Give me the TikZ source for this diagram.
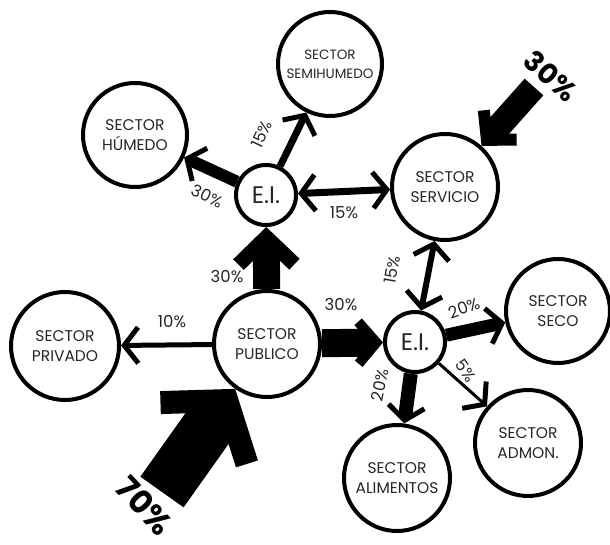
\documentclass[tikz,border=0pt]{standalone}
\usepackage{fontspec}
\setmainfont{Poppins}
\usepackage{tikz}
\usetikzlibrary{arrows.meta}
\pgfdeclarelayer{back}
\pgfsetlayers{back,main}

\begin{document}
\begin{tikzpicture}[x=1pt, y=-1pt,
  sector/.style={circle, draw, line width=4pt, fill=white, minimum size=104pt,
    inner sep=0pt, align=center, text=black!85, font=\fontsize{15.5}{20}\selectfont},
  ei/.style={sector, minimum size=60pt, font=\fontsize{24}{24}\selectfont},
  pct/.style={text=black!85, font=\fontsize{16.5}{16.5}\selectfont},
  bigpct/.style={font=\fontsize{32}{32}\selectfont\bfseries},
  >={Straight Barb[length=14pt, width=36pt, line width=5pt]},
  flowUp/.style={line width=27pt, -{Straight Barb[length=27pt, width=56pt, line width=15pt]}},
  flowRight/.style={line width=28pt, -{Straight Barb[length=18pt, width=42pt, line width=10pt]}},
  flowIn/.style={line width=25pt, -{Straight Barb[length=20pt, width=44pt, line width=12pt]}},
  flowBig/.style={line width=53pt, -{Straight Barb[length=40pt, width=106pt, line width=23pt]}}]
\useasboundingbox (0,0) rectangle (610,545);

% sectors
\node[sector] (humedo) at (135,135) {SECTOR\\HÚMEDO};
\node[sector, font=\fontsize{13.5}{19}\selectfont] (semi) at (330,64) {SECTOR\\SEMIHUMEDO};
\node[ei] (eiA) at (266,195) {E.I.};
\node[sector, minimum size=106pt] (servicio) at (445,187) {SECTOR\\SERVICIO};
\node[sector, minimum size=106pt] (publico) at (267,344) {SECTOR\\PUBLICO};
\node[sector, minimum size=108pt] (privado) at (65,346) {SECTOR\\PRIVADO};
\node[ei] (eiB) at (415,342) {E.I.};
\node[sector] (seco) at (558,311) {SECTOR\\SECO};
\node[sector, minimum size=106pt] (admon) at (528,443) {SECTOR\\ADMON.};
\node[sector, minimum size=106pt] (alimentos) at (397,478) {SECTOR\\ALIMENTOS};

\coordinate (srcA) at (162,492);
\coordinate (srcB) at (534,87);

% flows
\begin{pgfonlayer}{back}
\draw[flowBig] (srcA) -- (publico);
\draw[flowIn] (srcB) -- (servicio);
\draw[flowUp] (publico) -- (eiA);
\draw[flowRight] (publico) -- (eiB);
\draw[line width=5pt, ->] (publico) -- (privado);
\draw[line width=12pt, ->] (eiA) -- (humedo);
\draw[line width=7pt, ->] (eiA) -- (semi);
\draw[line width=7pt, <->] (eiA) -- (servicio);
\draw[line width=6pt, <->] (servicio) -- (eiB);
\draw[line width=13pt, ->] (eiB) -- (seco);
\draw[line width=3pt, ->] (eiB) -- (admon);
\draw[line width=14pt, ->] (eiB) -- (alimentos);
\end{pgfonlayer}

% percentages
\node[pct, rotate=-25] (pHum) at (207,196) {30\%};
\node[pct, rotate=65] (pSemi) at (262,134) {15\%};
\node[pct] (pServ) at (344,213) {15\%};
\node[pct] (pUp) at (227,277) {30\%};
\node[pct] (pRight) at (341,305) {30\%};
\node[pct] (pPriv) at (172,322) {10\%};
\node[pct, rotate=80] (pDown) at (392,270) {15\%};
\node[pct, rotate=20] (pSeco) at (464,308) {20\%};
\node[pct, rotate=-55] (pAdm) at (466,371) {5\%};
\node[pct, rotate=78] (pAli) at (380,385) {20\%};
\node[bigpct, rotate=-47] (pIn70) at (145,506) {70\%};
\node[bigpct, font=\fontsize{28}{28}\selectfont\bfseries, rotate=-42] (pIn30) at (551,76) {30\%};
\end{tikzpicture}
\end{document}
